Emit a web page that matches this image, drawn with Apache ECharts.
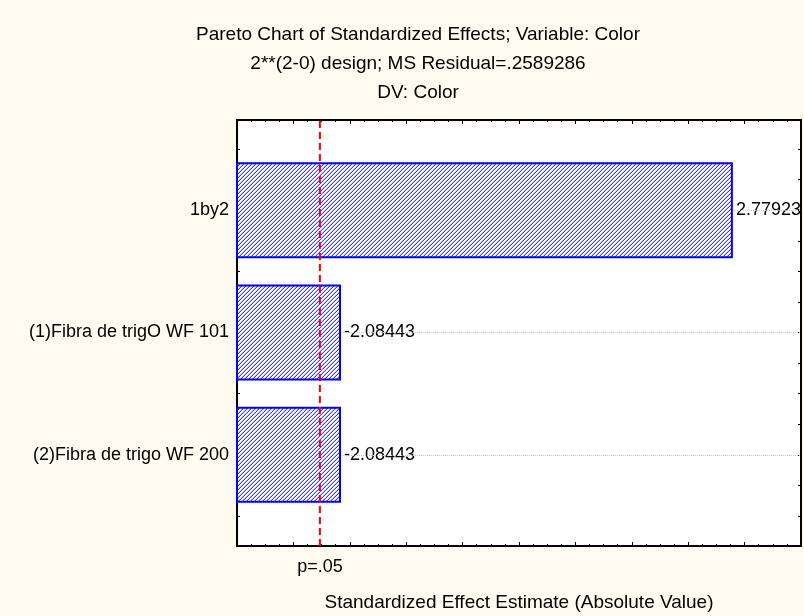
<!DOCTYPE html>
<html>
<head>
<meta charset="utf-8">
<script src="https://cdn.jsdelivr.net/npm/echarts@6/dist/echarts.min.js"></script>
<style>
html,body{margin:0;padding:0;background:#fffbf0;}
#chart{width:804px;height:616px;}
</style>
</head>
<body>
<div id="chart"></div>
<script>
// ---- data ----
const titleLines = [
  'Pareto Chart of Standardized Effects; Variable: Color',
  '2**(2-0) design; MS Residual=.2589286',
  'DV: Color'
];
const categories = ['1by2', '(1)Fibra de trigO WF 101', '(2)Fibra de trigo WF 200'];
const effects = [2.77923, -2.08443, -2.08443];
const pCritical = 2.047;
const pLabel = 'p=.05';
const xAxisName = 'Standardized Effect Estimate (Absolute Value)';
const xMin = 1.9, xMax = 2.9;

const FONT = '"Liberation Sans", Arial, sans-serif';
const FS = 18;

function hatch() {
  const c = document.createElement('canvas');
  c.width = 4; c.height = 4;
  const ctx = c.getContext('2d');
  ctx.fillStyle = '#ffffff';
  ctx.fillRect(0, 0, 4, 4);
  for (let x = 0; x < 4; x++) {
    for (let y = 0; y < 4; y++) {
      const k = (x + y) % 4;
      if (k === 3) { ctx.fillStyle = '#3c3cff'; ctx.fillRect(x, y, 1, 1); }
      else if (k === 2) { ctx.fillStyle = '#c6c6ff'; ctx.fillRect(x, y, 1, 1); }
    }
  }
  return c;
}

const absVals = effects.map(v => Math.abs(v));
const leaderData = categories.map((c, i) => [
  { coord: [absVals[i], c] },
  { coord: [xMax, c] }
]);

const chart = echarts.init(document.getElementById('chart'), null, { renderer: 'canvas' });
const tickStyle = { color: '#000', width: 1 };
const frameLine = { show: true, onZero: false, lineStyle: { color: '#000', width: 2 } };
const option = {
  backgroundColor: '#fffbf0',
  animation: false,
  textStyle: { fontFamily: FONT },
  title: {
    text: titleLines.join('\n'),
    left: 413, top: 15, textAlign: 'center',
    textStyle: { fontFamily: FONT, fontSize: 19, fontWeight: 'normal', color: '#000', lineHeight: 29 }
  },
  grid: [
    { left: 237, top: 120, width: 564, height: 426, show: true, backgroundColor: '#ffffff', borderWidth: 0, containLabel: false, outerBoundsMode: 'none' },
    { left: 237, top: 149, width: 564, height: 367, containLabel: false, outerBoundsMode: 'none' }
  ],
  xAxis: [
    {
      gridIndex: 0, type: 'value', min: xMin, max: xMax, interval: 0.1, position: 'bottom',
      axisLine: frameLine,
      axisTick: { show: true, inside: true, length: 4, lineStyle: tickStyle },
      minorTick: { show: true, splitNumber: 4, length: 2, lineStyle: tickStyle },
      axisLabel: { show: false }, splitLine: { show: false }, minorSplitLine: { show: false },
      name: xAxisName, nameLocation: 'middle', nameGap: 47,
      nameTextStyle: { fontFamily: FONT, fontSize: 19, color: '#000' }
    },
    {
      gridIndex: 0, type: 'value', min: xMin, max: xMax, interval: 0.1, position: 'top',
      axisLine: frameLine,
      axisTick: { show: true, inside: true, length: 4, lineStyle: tickStyle },
      minorTick: { show: true, splitNumber: 4, length: 2, lineStyle: tickStyle },
      axisLabel: { show: false }, splitLine: { show: false }
    },
    { gridIndex: 1, type: 'value', min: xMin, max: xMax, show: false }
  ],
  yAxis: [
    {
      gridIndex: 0, type: 'value', min: 0, max: 1, position: 'left',
      axisLine: frameLine,
      axisTick: { show: false }, axisLabel: { show: false }, splitLine: { show: false }
    },
    {
      gridIndex: 0, type: 'value', min: 0, max: 1, position: 'right',
      axisLine: frameLine,
      axisTick: { show: false }, axisLabel: { show: false }, splitLine: { show: false }
    },
    {
      gridIndex: 1, type: 'category', data: categories, inverse: true, position: 'left',
      axisLine: { show: false, onZero: false },
      axisTick: { show: true, inside: true, length: 3, lineStyle: tickStyle },
      axisLabel: { show: true, margin: 8, fontFamily: FONT, fontSize: FS, color: '#000' },
      splitLine: { show: false }
    },
    {
      gridIndex: 1, type: 'category', data: categories, inverse: true, position: 'left',
      axisLine: { show: false, onZero: false },
      axisTick: { show: true, inside: true, alignWithLabel: true, length: 4, lineStyle: tickStyle },
      axisLabel: { show: false }, splitLine: { show: false }
    },
    {
      gridIndex: 1, type: 'value', min: -0.5, max: 2.5, interval: 0.25, inverse: true, position: 'right',
      axisLine: { show: false, onZero: false },
      axisTick: { show: true, inside: true, length: 3, lineStyle: tickStyle },
      axisLabel: { show: false }, splitLine: { show: false }
    }
  ],
  series: [
    {
      type: 'bar', xAxisIndex: 2, yAxisIndex: 2,
      data: absVals, barWidth: 96,
      itemStyle: { color: { image: hatch(), repeat: 'repeat' }, borderColor: '#0000ff', borderWidth: 2 },
      label: {
        show: true, position: 'right', distance: 3,
        formatter: p => effects[p.dataIndex].toFixed(5),
        fontFamily: FONT, fontSize: FS, color: '#000'
      },
      markLine: {
        silent: true, symbol: ['none', 'none'], label: { show: false },
        lineStyle: { color: '#c8c8c8', type: 'dotted', width: 1 },
        data: leaderData
      },
      z: 3
    },
    {
      type: 'line', xAxisIndex: 0, yAxisIndex: 0,
      data: [[pCritical, 0], [pCritical, 1]],
      symbol: 'circle', symbolSize: 0, showSymbol: true,
      lineStyle: { color: '#ff0000', width: 2, type: [7, 4] },
      itemStyle: { color: '#ff0000' },
      label: {
        show: true, position: 'bottom', distance: 12,
        formatter: p => p.dataIndex === 0 ? pLabel : '',
        fontFamily: FONT, fontSize: FS, color: '#000'
      },
      z: 5
    }
  ]
};
chart.setOption(option);
</script>
</body>
</html>
